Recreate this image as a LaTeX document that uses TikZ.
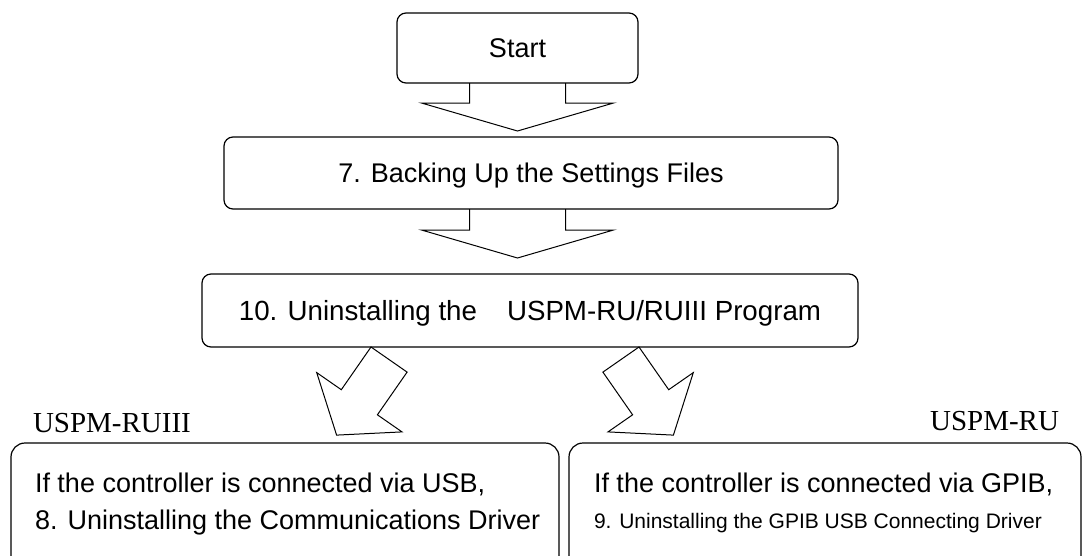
\documentclass[tikz,border=0pt]{standalone}
\usepackage{fontspec}
\setmainfont{Liberation Sans}
\newfontfamily\labelserif{Liberation Serif}
\usetikzlibrary{calc}
\begin{document}
\begin{tikzpicture}[x=1pt,y=-1pt,
  box/.style={draw, line width=1.2pt, rounded corners=9pt, inner sep=0pt, outer sep=0pt,
    text height=19.4pt, text depth=0pt, font=\fontsize{27}{32}\selectfont},
  bigbox/.style={draw, line width=1.2pt, rounded corners=14pt, inner sep=0pt, outer sep=0pt},
  txt/.style={inner sep=0pt, outer sep=0pt, font=\fontsize{27}{32}\selectfont},
  blockarrow/.style={draw, line width=1pt, line join=miter},
  lbl/.style={inner sep=0pt, outer sep=0pt, font=\labelserif\fontsize{29}{32}\selectfont}]
\useasboundingbox (0,0) rectangle (1084,555);
\clip (0,0) rectangle (1084,555);

% process boxes
\node[box, minimum width=241pt, minimum height=70pt] (start) at (517.5,48) {Start};
\node[box, minimum width=614pt, minimum height=72pt] (b7) at (531,173) {7. Backing Up the Settings Files};
\node[box, minimum width=656pt, minimum height=73pt, text height=19.8pt, font=\fontsize{27.7}{32}\selectfont] (b10) at (530,310.5)
  {10. Uninstalling the\hspace{30pt}USPM-RU/RUIII Program};

% bottom boxes (continue below the visible area)
\node[bigbox, minimum width=548pt, minimum height=147pt] (usb) at (285,516.5) {};
\node[bigbox, minimum width=512pt, minimum height=147pt] (gpib) at (825,516.5) {};

\node[txt, anchor=base west] (usb1) at (35,492) {If the controller is connected via USB,};
\node[txt, anchor=base west] (usb2) at (35,529) {8. Uninstalling the Communications Driver};
\node[txt, anchor=base west] (gp1) at (594,492) {If the controller is connected via GPIB,};
\node[txt, anchor=base west, font=\fontsize{21}{24}\selectfont] (gp2) at (594,528) {9. Uninstalling the GPIB USB Connecting Driver};

% labels
\node[lbl, anchor=base west] (lblusb) at (33,432) {USPM-RUIII};
\node[lbl, anchor=base east] (lblgpib) at (1059,430) {USPM-RU};

% block arrow Start -> 7
\draw[blockarrow] ($(start.south)+(-48,0)$) -- ++(0,20) -- ++(-48,0)
  -- ($(start.south)+(0,48)$) -- ($(start.south)+(96,20)$) -- ++(-48,0) -- ($(start.south)+(48,0)$);

% block arrow 7 -> 10
\coordinate (a2) at (start.south |- b7.south);
\draw[blockarrow] ($(a2)+(-48,0)$) -- ++(0,21) -- ++(-48,0)
  -- ($(a2)+(0,49)$) -- ($(a2)+(96,21)$) -- ++(-48,0) -- ($(a2)+(48,0)$);

% block arrow 10 -> USB (down-left)
\draw[blockarrow] ($(b10.south)+(-159,0)$) -- ++(36.1,25.1) -- ++(-29.7,42.7) -- ++(24.6,17.1)
  -- ++(-65.4,3.2) -- ++(-19.9,-62.5) -- ++(24.6,17.1) -- cycle;

% block arrow 10 -> GPIB (down-right)
\draw[blockarrow] ($(b10.south)+(109,0)$) -- ++(-36.1,25.1) -- ++(29.7,42.7) -- ++(-24.6,17.1)
  -- ++(65.4,3.2) -- ++(19.9,-62.5) -- ++(-24.6,17.1) -- cycle;
\end{tikzpicture}
\end{document}
